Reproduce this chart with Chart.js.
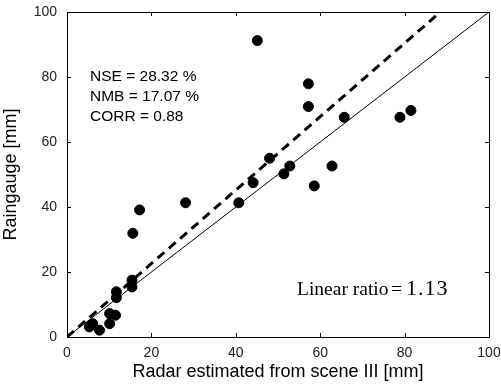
<!DOCTYPE html>
<html>
<head>
<meta charset="utf-8">
<script src="https://cdn.jsdelivr.net/npm/chart.js@4.4.1/dist/chart.umd.min.js"></script>
<style>
  html, body { margin: 0; padding: 0; background: #fff; }
  #wrap { width: 501px; height: 385px; }
</style>
</head>
<body>
<div id="wrap"><canvas id="scatterChart"></canvas></div>
<script>
// radar vs raingauge (mm)
const radarX = [17.2, 28.1, 40.7, 44.1, 15.6, 15.4, 15.4, 11.7, 11.7, 10.1, 11.5, 10.1, 5.3, 6.1, 7.7,
  45.1, 57.2, 57.2, 65.7, 78.9, 81.5, 48.0, 52.8, 51.4, 62.8, 58.6];
const gaugeY = [39.1, 41.3, 41.3, 47.5, 31.9, 17.5, 15.4, 13.9, 12.1, 7.2, 6.7, 4.1, 3.1, 4.1, 2.1,
  91.2, 77.9, 70.9, 67.6, 67.6, 69.7, 55.0, 52.6, 50.2, 52.6, 46.5];
const xTicks = [0, 20, 40, 60, 80, 100];
const yTicks = [0, 20, 40, 60, 80, 100];
const ratio = 1.13;
const stats = ['NSE = 28.32 %', 'NMB = 17.07 %', 'CORR = 0.88'];

const puntos = radarX.map((x, i) => ({ x: x, y: gaugeY[i] }));

// caja y ticks hacia adentro
const framePlugin = {
  id: 'frame',
  afterDraw(chart) {
    const { ctx, chartArea: a, scales } = chart;
    ctx.save();
    ctx.strokeStyle = '#000';
    ctx.lineWidth = 1;
    ctx.strokeRect(a.left + 0.5, a.top + 0.5, a.right - a.left, a.bottom - a.top);
    ctx.beginPath();
    xTicks.forEach(v => {
      const px = Math.round(scales.x.getPixelForValue(v)) + 0.5;
      ctx.moveTo(px, a.bottom); ctx.lineTo(px, a.bottom - 4);
      ctx.moveTo(px, a.top); ctx.lineTo(px, a.top + 4);
    });
    yTicks.forEach(v => {
      const py = Math.round(scales.y.getPixelForValue(v)) + 0.5;
      ctx.moveTo(a.left, py); ctx.lineTo(a.left + 4, py);
      ctx.moveTo(a.right, py); ctx.lineTo(a.right - 4, py);
    });
    ctx.stroke();

    // textos
    ctx.fillStyle = '#000';
    ctx.font = '15.5px "Liberation Sans", Arial, sans-serif';
    ctx.textBaseline = 'middle';
    stats.forEach((s, i) => ctx.fillText(s, 90, 77 + i * 20));
    ctx.textBaseline = 'alphabetic';
    ctx.font = '19.5px "Liberation Serif", "Times New Roman", serif';
    ctx.fillText('Linear ratio', 297, 295);
    ctx.fillText('=', 391, 295);
    ctx.font = '22px "Liberation Serif", "Times New Roman", serif';
    ctx.letterSpacing = '1px';
    ctx.fillText(ratio.toFixed(2), 406, 295);
    ctx.restore();
  }
};

const ctx = document.getElementById('scatterChart').getContext('2d');
new Chart(ctx, {
  type: 'scatter',
  data: {
    datasets: [{
      label: 'Datos',
      data: puntos,
      backgroundColor: '#000',
      borderColor: '#000',
      pointRadius: 5,
      pointHoverRadius: 5
    }, {
      type: 'line',
      label: '1:1',
      data: [{ x: 0, y: 0 }, { x: 100, y: 100 }],
      borderColor: '#000',
      borderWidth: 1,
      pointRadius: 0,
      fill: false
    }, {
      type: 'line',
      label: 'ratio',
      data: [{ x: 0, y: 0 }, { x: 100 / ratio, y: 100 }],
      borderColor: '#000',
      borderWidth: 3,
      borderDash: [9, 6],
      pointRadius: 0,
      fill: false
    }]
  },
  options: {
    responsive: true,
    maintainAspectRatio: false,
    animation: false,
    layout: { padding: { top: 12, right: 12, left: 0, bottom: 0 } },
    plugins: { legend: { display: false }, tooltip: { enabled: false } },
    scales: {
      x: {
        type: 'linear', min: 0, max: 100,
        afterBuildTicks: s => { s.ticks = xTicks.map(v => ({ value: v })); },
        afterFit: s => { s.height = 48; s.paddingLeft = 0; s.paddingRight = 0; },
        grid: { display: false, drawTicks: false },
        border: { display: false },
        ticks: { color: '#222', padding: 8, font: { size: 14, family: '"Liberation Sans", Arial' } },
        title: { display: true, text: 'Radar estimated from scene III [mm]', color: '#000',
          font: { size: 18, family: '"Liberation Sans", Arial' }, padding: { top: 0, bottom: 2 } }
      },
      y: {
        type: 'linear', min: 0, max: 100,
        afterBuildTicks: s => { s.ticks = yTicks.map(v => ({ value: v })); },
        afterFit: s => { s.width = 67; s.paddingTop = 0; s.paddingBottom = 0; },
        grid: { display: false, drawTicks: false },
        border: { display: false },
        ticks: { color: '#222', padding: 10, font: { size: 14, family: '"Liberation Sans", Arial' } },
        title: { display: true, text: 'Raingauge [mm]', color: '#000',
          font: { size: 18, family: '"Liberation Sans", Arial' }, padding: { top: 0, bottom: 6 } }
      }
    }
  },
  plugins: [framePlugin]
});
</script>
</body>
</html>
